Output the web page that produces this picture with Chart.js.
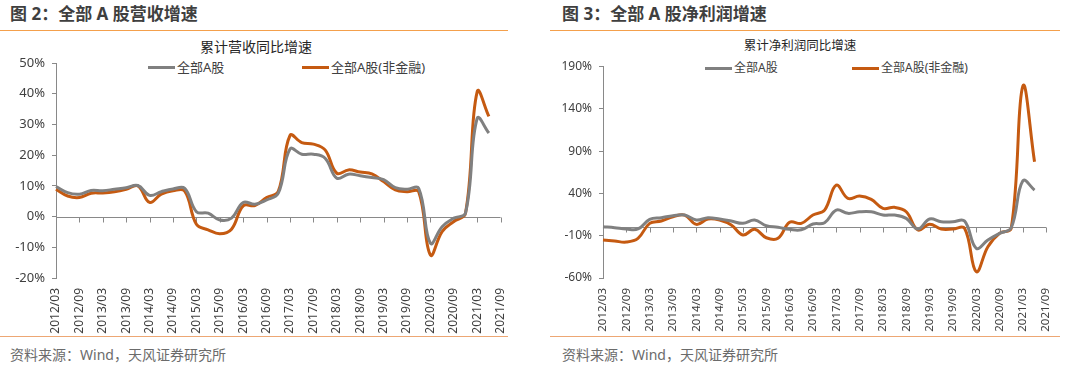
<!DOCTYPE html>
<html>
<head>
<meta charset="utf-8">
<script src="https://cdn.jsdelivr.net/npm/chart.js@4.4.0/dist/chart.umd.min.js"></script>
<style>
  body { margin: 0; background: #fff; }
  #page { position: relative; width: 1080px; height: 378px; overflow: hidden;
    font-family: "Noto Sans", "Noto Sans CJK SC", sans-serif; }
  .hd { position: absolute; top: 3px; font-size: 17px; font-weight: bold; color: #3f3f3f; line-height: 22px; white-space: nowrap; }
  .rule { position: absolute; height: 1px; background: #f4a04c; }
  .rule2 { position: absolute; height: 1px; background: #eda774; }
  .ct { position: absolute; text-align: center; color: #262626; line-height: 20px; white-space: nowrap; }
  .src { position: absolute; top: 345px; font-size: 14px; color: #6b6b6b; line-height: 20px; white-space: nowrap; }
  .lg { position: absolute; display: flex; align-items: center; color: #404040; white-space: nowrap; line-height: 16px; }
  .lg i { display: inline-block; width: 27px; height: 3px; margin-right: 2px; }
  canvas { position: absolute; }
</style>
</head>
<body>
<div id="page">
  <div class="hd" style="left:10px">图 2：全部 A 股营收增速</div>
  <div class="rule" style="left:0;width:508px;top:30px"></div>
  <div class="ct" style="left:156px;width:200px;top:37px;font-size:14px">累计营收同比增速</div>
  <div id="lg1"></div>
  <canvas id="c1" width="525" height="294" style="left:0;top:40px"></canvas>
  <div class="rule2" style="left:0;width:508px;top:336px"></div>
  <div class="src" style="left:10px">资料来源：Wind，天风证券研究所</div>

  <div class="hd" style="left:562px">图 3：全部 A 股净利润增速</div>
  <div class="rule" style="left:550px;width:510px;top:30px"></div>
  <div class="ct" style="left:700px;width:200px;top:36px;font-size:12.5px">累计净利润同比增速</div>
  <div id="lg2"></div>
  <canvas id="c2" width="530" height="294" style="left:540px;top:40px"></canvas>
  <div class="rule2" style="left:550px;width:510px;top:336px"></div>
  <div class="src" style="left:562px">资料来源：Wind，天风证券研究所</div>
</div>
<script>
// quarterly report dates, axis runs to 2021/09
const quarters = [
  "2012/03","2012/06","2012/09","2012/12",
  "2013/03","2013/06","2013/09","2013/12",
  "2014/03","2014/06","2014/09","2014/12",
  "2015/03","2015/06","2015/09","2015/12",
  "2016/03","2016/06","2016/09","2016/12",
  "2017/03","2017/06","2017/09","2017/12",
  "2018/03","2018/06","2018/09","2018/12",
  "2019/03","2019/06","2019/09","2019/12",
  "2020/03","2020/06","2020/09","2020/12",
  "2021/03","2021/06","2021/09"
];
const seriesNames = ["全部A股", "全部A股(非金融)"];

// 累计营收同比增速 (%)
const revenueAll = [9.8, 7.8, 7.3, 8.5, 8.4, 8.9, 9.4, 10.1, 6.9, 8.1, 9.0, 9.2,
  1.6, 1.1, -1.1, -0.5, 4.6, 4.0, 5.4, 7.6, 22.0, 20.3, 20.3, 19.0,
  12.5, 13.8, 13.3, 12.7, 12.0, 9.4, 8.9, 9.2, -8.7, -3.3, -0.5, 1.1, 32.0, 27.2, null];
const revenueNonFin = [8.9, 6.7, 6.2, 7.6, 7.7, 8.1, 8.9, 10.0, 4.6, 7.3, 8.4, 8.3,
  -2.5, -4.3, -5.6, -4.1, 3.5, 3.6, 6.2, 8.2, 26.4, 24.1, 23.6, 21.7,
  14.1, 15.2, 14.5, 13.9, 11.4, 8.7, 8.1, 8.1, -12.5, -4.9, -1.6, 1.1, 40.7, 32.6, null];

// 累计净利润同比增速 (%)
const profitAll = [0.6, -0.6, -2.1, -2.0, 9.3, 11.2, 13.6, 14.4, 8.5, 11.2, 9.7, 7.3,
  4.6, 8.5, 1.8, -0.1, -2.5, -3.0, 3.8, 5.3, 20.3, 16.4, 18.3, 18.3,
  14.4, 14.4, 10.5, -2.1, 9.7, 6.5, 6.5, 7.3, -24.9, -15.1, -7.2, -0.6, 55.0, 43.9, null];
const profitNonFin = [-15.1, -16.3, -17.5, -13.1, 4.6, 7.3, 12.4, 14.4, 3.4, 9.7, 8.5, 2.6,
  -9.2, -2.5, -12.4, -13.1, 5.8, 4.6, 14.4, 20.3, 49.8, 34.1, 36.8, 32.9,
  22.3, 23.5, 18.3, -3.3, 3.4, -2.1, -2.1, -1.3, -52.5, -23.0, -7.2, -1.3, 167.0, 77.4, null];

const revenueTicks = { min: -20, max: 50, step: 10 };
const profitTicks = { min: -60, max: 190, step: 50 };

const grey = "#808080";
const orange = "#c55a11";
const axisColor = "#898989";
const fontFamily = '"Noto Sans", "Noto Sans CJK SC", sans-serif';

// x axis crosses at 0 with a tick every half year
const zeroAxis = {
  id: "zeroAxis",
  beforeDatasetsDraw(chart) {
    const { ctx, chartArea, scales } = chart;
    const y0 = Math.round(scales.y.getPixelForValue(0)) + 0.5;
    ctx.save();
    ctx.strokeStyle = axisColor;
    ctx.lineWidth = 1;
    ctx.beginPath();
    ctx.moveTo(chartArea.left, y0);
    ctx.lineTo(chartArea.right, y0);
    scales.x.ticks.forEach((t, i) => {
      if (i % 2 === 0) {
        const px = Math.round(scales.x.getPixelForTick(i)) + 0.5;
        ctx.moveTo(px, y0);
        ctx.lineTo(px, y0 + 5);
      }
    });
    ctx.stroke();
    ctx.restore();
  }
};

function legendHtml(id, left1, left2, top, size) {
  const el = document.getElementById(id);
  const cols = [grey, orange];
  [left1, left2].forEach((l, k) => {
    const d = document.createElement("div");
    d.className = "lg";
    d.style.left = l + "px";
    d.style.top = top + "px";
    d.style.fontSize = size + "px";
    d.innerHTML = '<i style="background:' + cols[k] + '"></i>' + seriesNames[k];
    el.appendChild(d);
  });
}
legendHtml("lg1", 148, 302, 59, 13);
legendHtml("lg2", 705, 852, 60, 12);

function makeChart(id, a, b, t, opt) {
  return new Chart(document.getElementById(id), {
    type: "line",
    data: {
      labels: quarters,
      datasets: [
        { label: seriesNames[0], data: a, borderColor: grey, backgroundColor: grey,
          borderWidth: 3, pointRadius: 0, tension: 0.4 },
        { label: seriesNames[1], data: b, borderColor: orange, backgroundColor: orange,
          borderWidth: 3, pointRadius: 0, tension: 0.4 },
      ],
    },
    options: {
      responsive: false,
      animation: false,
      layout: { padding: opt.padding },
      plugins: { legend: { display: false }, title: { display: false }, tooltip: { enabled: false } },
      scales: {
        x: {
          offset: false,
          grid: { display: false, drawTicks: false },
          border: { display: false },
          ticks: {
            autoSkip: false, maxRotation: 90, minRotation: 90, padding: 10,
            color: "#404040", font: { family: fontFamily, size: opt.xFont },
            callback(v, i) { return i % 2 === 0 ? quarters[i] : ""; },
          },
          afterFit(s) { s.height = 56; },
        },
        y: {
          min: t.min, max: t.max,
          grid: { drawOnChartArea: false, drawTicks: true, tickLength: 4, tickColor: axisColor },
          border: { display: true, color: axisColor },
          ticks: {
            stepSize: t.step, padding: 7, color: "#404040",
            font: { family: fontFamily, size: opt.yFont },
            callback: (v) => v + "%",
          },
          afterFit(s) { s.width = opt.yWidth; },
        },
      },
    },
    plugins: [zeroAxis],
  });
}

makeChart("c1", revenueAll, revenueNonFin, revenueTicks,
  { padding: { top: 23, right: 8, left: 0, bottom: 0 }, yWidth: 56, xFont: 12, yFont: 13 });
makeChart("c2", profitAll, profitNonFin, profitTicks,
  { padding: { top: 26.5, right: 10, left: 0, bottom: 0 }, yWidth: 63, xFont: 11.5, yFont: 12 });
</script>
</body>
</html>
